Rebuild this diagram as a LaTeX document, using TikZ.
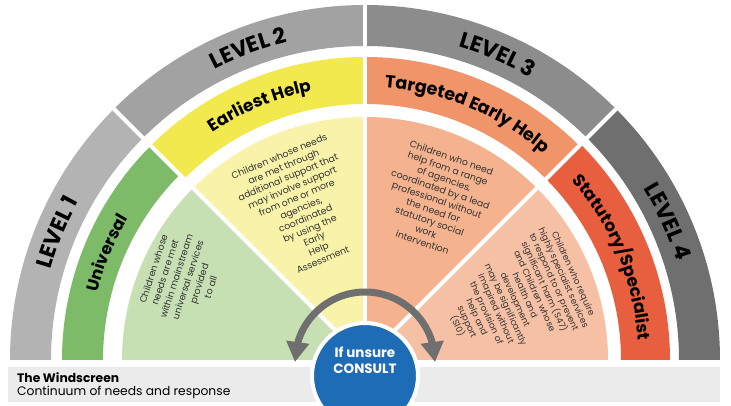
\documentclass[tikz,border=0pt]{standalone}
\usepackage{fontspec}
\setmainfont{Poppins}
\usetikzlibrary{decorations.text,arrows.meta,bending}
\definecolor{lvlA}{HTML}{B3B3B3}
\definecolor{lvlB}{HTML}{A2A2A2}
\definecolor{lvlC}{HTML}{8C8C8C}
\definecolor{lvlD}{HTML}{6F6F6F}
\definecolor{bandG}{HTML}{7DBB69}
\definecolor{bandY}{HTML}{F2E94E}
\definecolor{bandO}{HTML}{F0956A}
\definecolor{bandR}{HTML}{E85F40}
\definecolor{fillG}{HTML}{C6E0B4}
\definecolor{fillY}{HTML}{F8F3A9}
\definecolor{fillO}{HTML}{F4B38E}
\definecolor{fillR}{HTML}{F6C0A4}
\definecolor{consultblue}{HTML}{1E6BB6}
\definecolor{arrowgray}{HTML}{6F6F6F}
\definecolor{barfill}{HTML}{EBEBEB}
\definecolor{bodytext}{HTML}{333333}
\newcommand\annsec[5]{%
  \fill[#1] (#4:#2pt) arc[start angle=#4,end angle=#5,radius=#2pt] -- (#5:#3pt) arc[start angle=#5,end angle=#4,radius=#3pt] -- cycle;}
\newcommand\arclabel[5]{% text, radius, a1, a2, size
  \path[decorate,decoration={text along path,text align=center,
    text={|\fontsize{#5}{#5}\selectfont\bfseries|#1}}]
    (#3:#2pt) arc[start angle=#3,end angle=#4,radius=#2pt];}
\tikzset{
  contenttext/.style={align=center,text=bodytext,inner sep=0pt,font=\fontsize{9.3}{11.2}\selectfont},
  sepline/.style={white,line width=4pt},
}
\begin{document}
\begin{tikzpicture}[x=1pt,y=1pt]
\useasboundingbox (-365,-46) rectangle (366,360);
\clip (-365,-46) rectangle (366,360);
\fill[white] (-365,-46) rectangle (366,360);
% inner sectors
\fill[fillG] (0,0) -- (180:243pt) arc[start angle=180,end angle=135,radius=243pt] -- cycle;
\fill[fillY] (0,0) -- (135:243pt) arc[start angle=135,end angle=90,radius=243pt] -- cycle;
\fill[fillO] (0,0) -- (90:243pt) arc[start angle=90,end angle=45,radius=243pt] -- cycle;
\fill[fillR] (0,0) -- (45:243pt) arc[start angle=45,end angle=0,radius=243pt] -- cycle;
% middle band
\annsec{bandG}{262}{303}{180}{135}
\annsec{bandY}{256}{303}{135}{90}
\annsec{bandO}{256}{303}{90}{45}
\annsec{bandR}{256}{305}{45}{0}
% outer ring
\annsec{lvlA}{314}{355}{180}{135}
\annsec{lvlB}{314}{355}{135}{90}
\annsec{lvlC}{314}{355}{90}{45}
\annsec{lvlD}{314}{355}{45}{0}
% separators
\draw[sepline] (0,0) -- (135:360pt);
\draw[sepline] (0,0) -- (90:360pt);
\draw[sepline] (0,0) -- (45:360pt);
% labels on rings
\arclabel{LEVEL 1}{327}{180}{135}{22}
\arclabel{LEVEL 2}{327}{133}{88}{22}
\arclabel{LEVEL 3}{327}{89}{44}{22}
\arclabel{LEVEL 4}{327}{47}{2}{22}
\arclabel{Universal}{276}{180}{135}{16.5}
\arclabel{Earliest Help}{274}{135}{90}{17}
\arclabel{Targeted Early Help}{273}{90}{45}{17.5}
\arclabel{Statutory/Specialist}{274}{45}{0}{17}
% content texts
\node[contenttext,rotate=72,font=\fontsize{9.3}{12}\selectfont] (cG) at (-183,82) {Children whose\\needs are met\\within mainstream\\universal services\\provided\\to all};
\node[contenttext,rotate=23] (cY) at (-64,152) {Children whose needs\\are met through\\additional support that\\may involve support\\from one or more\\agencies,\\coordinated\\by using the\\Early\\Help\\Assessment};
\node[contenttext,rotate=-19] (cO) at (72,160) {Children who need\\help from a range\\of agencies,\\coordinated by a lead\\professional without\\the need for\\statutory social\\work\\intervention};
\node[contenttext,rotate=-65.5,font=\fontsize{8.8}{10.6}\selectfont] (cR) at (150,60) {Children who require\\highly specialist services\\to respond to or prevent\\significant harm (S47)\\and Children whose\\health and\\development\\may be significantly\\imapired without\\the provision of\\help and\\support\\(S10)};
% bottom bar
\fill[barfill] (-357,-7) rectangle (355,-42);
\node[anchor=base west,inner sep=0pt,font=\bfseries\fontsize{12.3}{13}\selectfont] (t1) at (-348,-23) {The Windscreen};
\node[anchor=base west,inner sep=0pt,font=\fontsize{12.3}{13}\selectfont] (t2) at (-348,-35.5) {Continuum of needs and response};
% arrow
\draw[arrowgray,line width=7pt,{Triangle[width=22pt,length=20pt]}-{Triangle[width=22pt,length=20pt]}] (-70,-2) arc[start angle=180,end angle=0,radius=70pt];
% consult circle
\node[circle,fill=consultblue,draw=white,line width=4pt,minimum size=106pt,inner sep=0pt] (consult) at (0,-16) {};
\node[align=center,text=white,inner sep=0pt,font=\bfseries\fontsize{13.5}{15.5}\selectfont] (ctext) at (0,-0.5) {If unsure\\CONSULT};
\end{tikzpicture}
\end{document}
